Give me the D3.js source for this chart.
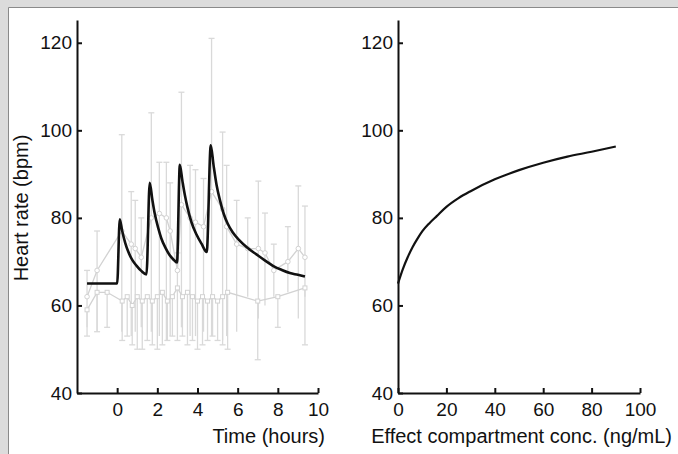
<!DOCTYPE html>
<html>
<head>
<meta charset="utf-8">
<script src="https://d3js.org/d3.v7.min.js"></script>
<style>
  body { margin: 0; background: #fff; }
  svg text { font-family: "Liberation Sans", Arial, sans-serif; fill: #111; }
</style>
</head>
<body>
<svg width="678" height="454"></svg>
<script>
// ---- data ----
// model fit, left panel (time in hours, heart rate in bpm)
var modelTime = [-1.5, 0, 0.13, 0.25, 0.4, 0.55, 0.75, 0.96, 1.2, 1.46,
                 1.62, 1.75, 1.87, 2.05, 2.2, 2.4, 2.6, 2.8, 2.98,
                 3.12, 3.25, 3.37, 3.5, 3.7, 3.95, 4.2, 4.46,
                 4.66, 4.8, 4.95, 5.12, 5.3, 5.5, 5.75, 6.1, 6.5, 6.95, 7.35, 7.78, 8.2, 8.6, 9.0, 9.35];
var modelHR   = [65, 65, 79.7, 77, 74.3, 72.3, 70.4, 69.1, 67.9, 67.1,
                 88, 84.2, 81, 77.6, 75.3, 73.2, 71.6, 70.5, 69.8,
                 92.1, 88.4, 85.2, 82.4, 79, 76.2, 74.1, 72.2,
                 96.6, 92, 87.5, 84, 81, 78.7, 76.7, 74.8, 73.1, 71.6, 70.3, 69, 68.1, 67.4, 67, 66.6];

// observed, active treatment (mean with upper / lower error)
var activeTime = [-1.5, -1.0, 0.23, 0.7, 0.9, 1.2, 1.7, 2.1, 2.45, 2.64, 3.0, 3.2, 3.63, 3.9, 4.3, 4.7,
                  5.25, 5.45, 5.95, 6.5, 7.03, 7.36, 7.8, 8.5, 9.02, 9.35];
var activeHR   = [62, 68, 77, 74, 73, 71, 80, 81, 80, 77, 68, 83, 80, 79, 78, 86,
                  82, 78, 74, 73, 73, 72, 68, 70, 73, 71];
var activeHigh = [68, 77, 99, 86, 84, 80, 104, 92.7, 92.7, 88, 72, 108.7, 92, 91, 89, 121,
                  99.6, 92, 84, 80, 88.4, 81.1, 74, 78, 87.3, 82.7];
var activeLow  = [55, 54, 54, 53, 54, 55, 54, 53, 52, 53, 63, 55, 53, 53, 54, 53,
                  52, 53, 54, 62, 57, 60, 62, 63, 57, 62];

// observed, placebo (mean with lower error)
var placeboTime = [-1.5, -1.0, -0.5, 0.25, 0.5, 0.75, 1.0, 1.25, 1.5, 1.75, 2.0, 2.25, 2.5, 2.75, 3.0,
                   3.25, 3.5, 3.75, 4.0, 4.25, 4.5, 4.75, 5.0, 5.25, 5.5, 7.0, 8.0, 9.35];
var placeboHR   = [59, 63, 63, 61, 62, 60, 62, 61, 62, 61, 62, 63, 61, 62, 64,
                   62, 63, 62, 61, 62, 61, 62, 61, 62, 63, 61, 62, 64];
var placeboLow  = [53, 54, 55, 52, 53, 51, 50, 50, 52, 51, 50, 51, 52, 53, 52,
                   53, 51, 52, 50, 51, 52, 53, 52, 51, 50, 47.6, 55, 51];

// right panel: heart rate vs effect compartment concentration
var effConc = [0, 2, 4, 6, 8, 10, 13, 16, 20, 25, 30, 40, 50, 60, 70, 80, 90];
var effHR   = [65, 68.3, 71, 73.3, 75.2, 76.9, 78.8, 80.4, 82.5, 84.5, 86.1, 88.8, 90.9, 92.6, 94, 95.1, 96.3];

var hrTicks = [40, 60, 80, 100, 120];
var timeTicks = [0, 2, 4, 6, 8, 10];
var concTicks = [0, 20, 40, 60, 80, 100];

var svg = d3.select('svg');

// frame
svg.append('rect').attr('width', 678).attr('height', 454).attr('fill', '#dcdcdc');
svg.append('rect').attr('x', 8).attr('y', 8).attr('width', 670).attr('height', 446).attr('fill', '#fff');
svg.append('path').attr('d', 'M8.5,454V7.5H678').attr('fill', 'none').attr('stroke', '#8a8a8a');

var y = d3.scaleLinear().domain([40, 125.2]).range([393, 20]);
var xT = d3.scaleLinear().domain([-2, 10]).range([77, 318]);
var xC = d3.scaleLinear().domain([0, 100]).range([398, 640]);

function styleAxis(g) {
  g.selectAll('path, line').attr('stroke', '#111').attr('stroke-width', 2);
  g.selectAll('text').attr('font-size', 19).attr('fill', '#111')
    .attr('font-family', '"Liberation Sans", Arial, sans-serif');
}

// ---- left panel ----
var left = svg.append('g');
var grey = '#d2d2d2';
var barGrey = '#d9d9d9';

// error bars
left.selectAll('.ebA').data(activeTime).enter().append('line')
  .attr('x1', function(d) { return xT(d); }).attr('x2', function(d) { return xT(d); })
  .attr('y1', function(d, i) { return y(activeLow[i]); })
  .attr('y2', function(d, i) { return y(activeHigh[i]); })
  .attr('stroke', barGrey).attr('stroke-width', 1.3);
left.selectAll('.capA').data(activeTime).enter().append('path')
  .attr('d', function(d, i) {
    return 'M' + (xT(d) - 3) + ',' + y(activeHigh[i]) + 'h6';
  })
  .attr('stroke', barGrey).attr('stroke-width', 1.3);
left.selectAll('.ebP').data(placeboTime).enter().append('line')
  .attr('x1', function(d) { return xT(d); }).attr('x2', function(d) { return xT(d); })
  .attr('y1', function(d, i) { return y(placeboHR[i]); })
  .attr('y2', function(d, i) { return y(placeboLow[i]); })
  .attr('stroke', barGrey).attr('stroke-width', 1.3);
left.selectAll('.capP').data(placeboTime).enter().append('path')
  .attr('d', function(d, i) {
    return 'M' + (xT(d) - 3) + ',' + y(placeboLow[i]) + 'h6';
  })
  .attr('stroke', barGrey).attr('stroke-width', 1.3);

// observed mean lines
var obsLine = d3.line().x(function(d) { return xT(d[0]); }).y(function(d) { return y(d[1]); });
left.append('path').datum(d3.zip(activeTime, activeHR)).attr('d', obsLine)
  .attr('fill', 'none').attr('stroke', grey).attr('stroke-width', 1.3);
left.append('path').datum(d3.zip(placeboTime, placeboHR)).attr('d', obsLine)
  .attr('fill', 'none').attr('stroke', grey).attr('stroke-width', 1.3);
left.selectAll('.mA').data(d3.zip(activeTime, activeHR)).enter().append('circle')
  .attr('cx', function(d) { return xT(d[0]); }).attr('cy', function(d) { return y(d[1]); })
  .attr('r', 2.3).attr('fill', '#fff').attr('stroke', grey);
left.selectAll('.mP').data(d3.zip(placeboTime, placeboHR)).enter().append('rect')
  .attr('x', function(d) { return xT(d[0]) - 2; }).attr('y', function(d) { return y(d[1]) - 2; })
  .attr('width', 4).attr('height', 4).attr('fill', '#fff').attr('stroke', grey);

// model
var modelLine = d3.line().x(function(d) { return xT(d[0]); }).y(function(d) { return y(d[1]); })
  .curve(d3.curveMonotoneX);
left.append('path').datum(d3.zip(modelTime, modelHR)).attr('d', modelLine)
  .attr('fill', 'none').attr('stroke', '#111').attr('stroke-width', 2.6).attr('stroke-linejoin', 'round');

// axes
left.append('g').attr('transform', 'translate(77,0)')
  .call(d3.axisLeft(y).tickValues(hrTicks).tickSize(-5).tickSizeOuter(0).tickPadding(5))
  .call(styleAxis);
left.append('g').attr('transform', 'translate(0,393)')
  .call(d3.axisBottom(xT).tickValues(timeTicks).tickSize(-5).tickSizeOuter(0).tickPadding(10))
  .call(styleAxis);

svg.append('text').attr('x', 325).attr('y', 443).attr('text-anchor', 'end')
  .attr('font-size', 20).text('Time (hours)');
svg.append('text').attr('transform', 'translate(28,208) rotate(-90)').attr('text-anchor', 'middle')
  .attr('font-size', 20).text('Heart rate (bpm)');

// ---- right panel ----
var right = svg.append('g');
var effLine = d3.line().x(function(d) { return xC(d[0]); }).y(function(d) { return y(d[1]); })
  .curve(d3.curveMonotoneX);
right.append('path').datum(d3.zip(effConc, effHR)).attr('d', effLine)
  .attr('fill', 'none').attr('stroke', '#111').attr('stroke-width', 2.2);

right.append('g').attr('transform', 'translate(398,0)')
  .call(d3.axisLeft(y).tickValues(hrTicks).tickSize(-5).tickSizeOuter(0).tickPadding(5))
  .call(styleAxis);
right.append('g').attr('transform', 'translate(0,393)')
  .call(d3.axisBottom(xC).tickValues(concTicks).tickSize(-5).tickSizeOuter(0).tickPadding(10))
  .call(styleAxis);

svg.append('text').attr('x', 672).attr('y', 443).attr('text-anchor', 'end')
  .attr('font-size', 20).text('Effect compartment conc. (ng/mL)');
</script>
</body>
</html>
